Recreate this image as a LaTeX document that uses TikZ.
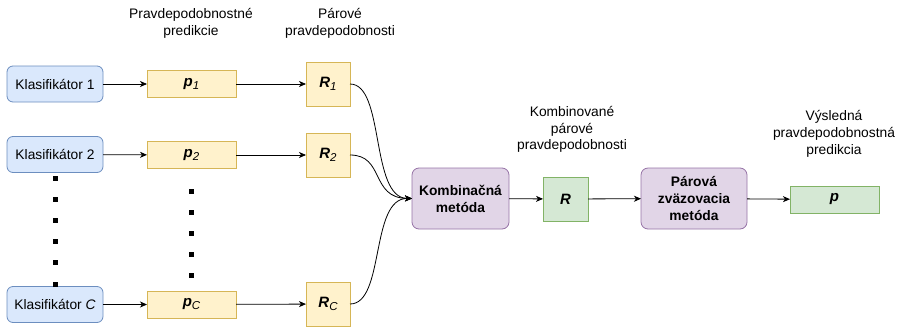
\documentclass[tikz,border=0pt]{standalone}
\usepackage{fontspec}
\setmainfont{Liberation Sans}
\usetikzlibrary{arrows.meta}
\definecolor{bfill}{HTML}{DAE8FC}\definecolor{bline}{HTML}{6C8EBF}
\definecolor{yfill}{HTML}{FFF2CC}\definecolor{yline}{HTML}{D6B656}
\definecolor{pfill}{HTML}{E1D5E7}\definecolor{pline}{HTML}{9673A6}
\definecolor{gfill}{HTML}{D5E8D4}\definecolor{gline}{HTML}{82B366}
\newcommand{\mysub}[1]{\raisebox{-3pt}{\fontsize{11.5}{12}\selectfont\mdseries\itshape #1}}
\begin{document}
\begin{tikzpicture}[x=1pt,y=-1pt,
  every node/.style={font=\fontsize{13.8}{16.8}\selectfont, inner sep=0pt, outer sep=0pt},
  clsbox/.style={draw=bline, fill=bfill, rounded corners=6pt, minimum width=96pt, minimum height=36pt, line width=0.8pt},
  ybox/.style={draw=yline, fill=yfill, line width=0.8pt, font=\fontsize{15}{17}\selectfont\bfseries\itshape},
  pbox/.style={draw=pline, fill=pfill, rounded corners=7pt, line width=0.8pt, font=\fontsize{13.8}{17}\selectfont\bfseries, align=center},
  gbox/.style={draw=gline, fill=gfill, line width=0.8pt, font=\fontsize{15}{17}\selectfont\bfseries\itshape},
  lbl/.style={align=center},
  arr/.style={-{Stealth[length=7pt,width=6pt,inset=2pt]}, line width=0.8pt, draw=black},
  dotsq/.style={fill=black, minimum size=5pt, inner sep=0pt}
]
\useasboundingbox (0,0) rectangle (904,327);
% classifiers
\node[clsbox] (k1) at (55,84) {Klasifikátor 1};
\node[clsbox] (k2) at (55,154.5) {Klasifikátor 2};
\node[clsbox] (kc) at (55,304.5) {Klasifikátor \textit{C}};
% p boxes
\node[ybox, minimum width=89pt, minimum height=27pt] (p1) at (191.5,84) {p\mysub{1}};
\node[ybox, minimum width=89pt, minimum height=27pt] (p2) at (191.5,155) {p\mysub{2}};
\node[ybox, minimum width=89pt, minimum height=27pt] (pc) at (191.5,304.5) {p\mysub{C}};
% R boxes
\node[ybox, minimum width=44pt, minimum height=44pt] (r1) at (328,84) {R\mysub{1}};
\node[ybox, minimum width=44pt, minimum height=44pt] (r2) at (328,155) {R\mysub{2}};
\node[ybox, minimum width=44pt, minimum height=44pt] (rc) at (328,304) {R\mysub{C}};
% right part
\node[pbox, minimum width=97pt, minimum height=61pt] (km) at (460.5,198.5) {Kombinačná\\metóda};
\node[gbox, minimum width=45pt, minimum height=44pt] (rr) at (565.5,199) {R};
\node[pbox, minimum width=106pt, minimum height=61pt] (pm) at (694,198.5) {Párová\\zväzovacia\\metóda};
\node[gbox, minimum width=89pt, minimum height=27pt] (pp) at (834.5,199.5) {p};
% labels
\node[lbl] (l1) at (191,23.5) {Pravdepodobnostné\\predikcie};
\node[lbl] (l2) at (340,23.5) {Párové\\pravdepodobnosti};
\node[lbl] (l3) at (572,129.5) {Kombinované\\párové\\pravdepodobnosti};
\node[lbl] (l4) at (834,134) {Výsledná\\pravdepodobnostná\\predikcia};
% dots
\foreach \i/\yy in {1/178,2/199,3/220,4/241,5/262,6/284}
  \node[dotsq] (da\i) at (55,\yy) {};
\foreach \i/\yy in {1/191,2/212,3/233,4/254,5/275}
  \node[dotsq] (db\i) at (191,\yy) {};
% arrows
\draw[arr] (k1) -- (p1);
\draw[arr] (k2) -- (p2);
\draw[arr] (kc) -- (pc);
\draw[arr] (p1) -- (r1);
\draw[arr] (p2) -- (r2);
\draw[arr] (pc) -- (rc);
\draw[arr] (r1.east) .. controls (385,84) and (370,198) .. (km.west);
\draw[arr] (r2.east) .. controls (385,155) and (370,198) .. (km.west);
\draw[arr] (rc.east) .. controls (385,304) and (370,198) .. (km.west);
\draw[arr] (km) -- (rr);
\draw[arr] (rr) -- (pm);
\draw[arr] (pm) -- (pp);
\end{tikzpicture}
\end{document}
